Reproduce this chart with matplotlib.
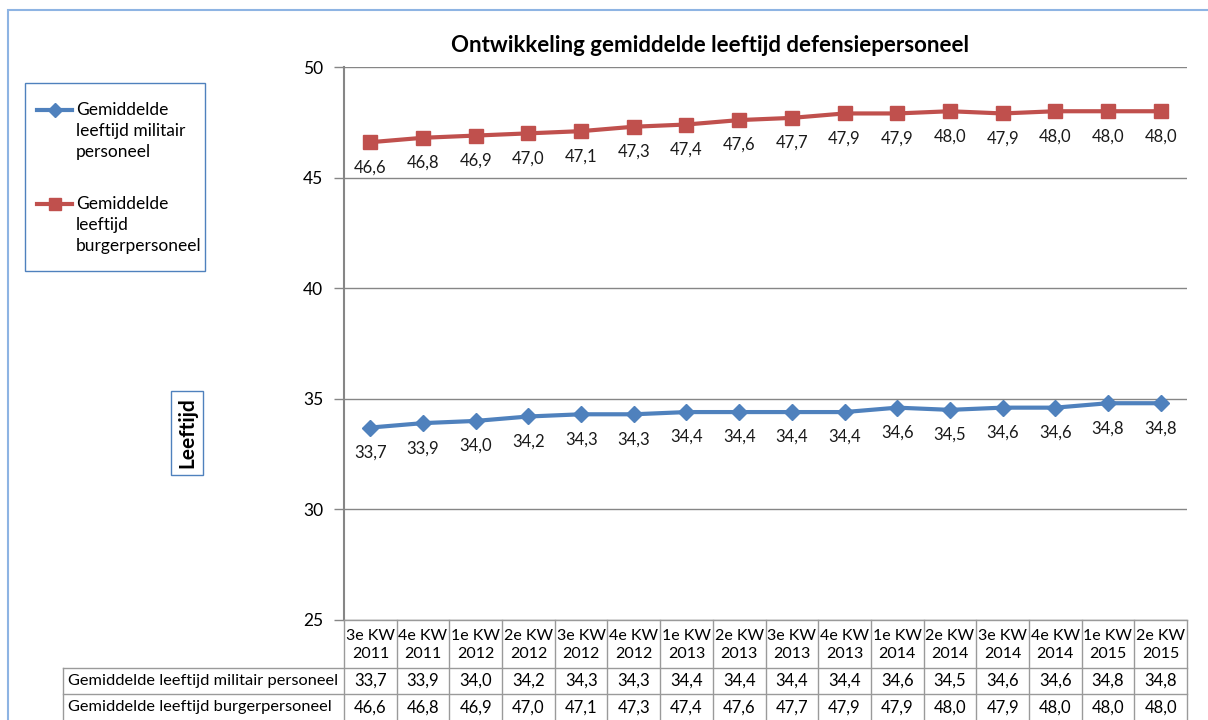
import matplotlib
matplotlib.use('Agg')
import matplotlib.pyplot as plt
from matplotlib.patches import Rectangle
from matplotlib.lines import Line2D

plt.rcParams['font.family'] = ['Lato', 'DejaVu Sans']

# data
periods = ['3e KW\n2011', '4e KW\n2011', '1e KW\n2012', '2e KW\n2012', '3e KW\n2012', '4e KW\n2012',
           '1e KW\n2013', '2e KW\n2013', '3e KW\n2013', '4e KW\n2013', '1e KW\n2014', '2e KW\n2014',
           '3e KW\n2014', '4e KW\n2014', '1e KW\n2015', '2e KW\n2015']
militair = [33.7, 33.9, 34.0, 34.2, 34.3, 34.3, 34.4, 34.4, 34.4, 34.4, 34.6, 34.5, 34.6, 34.6, 34.8, 34.8]
burger = [46.6, 46.8, 46.9, 47.0, 47.1, 47.3, 47.4, 47.6, 47.7, 47.9, 47.9, 48.0, 47.9, 48.0, 48.0, 48.0]
name_mil = 'Gemiddelde leeftijd militair personeel'
name_bur = 'Gemiddelde leeftijd burgerpersoneel'

W, H = 1208, 720
fig = plt.figure(figsize=(W / 100, H / 100), dpi=100)

def fx(px):
    return px / W

def fy(py):
    return 1 - py / H

def fmt(v):
    return ('%.1f' % v).replace('.', ',')

# outer chart border
fig.patches.append(Rectangle((fx(8), fy(730)), fx(1215) - fx(8), fy(10) - fy(730),
                             transform=fig.transFigure, fill=False, edgecolor='#8EB4E3', lw=1.5))

left, right, top, bottom = 344, 1187, 67, 620
ax = fig.add_axes([fx(left), fy(bottom), fx(right) - fx(left), fy(top) - fy(bottom)])

x = list(range(len(periods)))
blue = '#4F81BD'
red = '#C0504D'
grey = '#868686'
ax.plot(x, militair, color=blue, lw=3, marker='D', ms=8, zorder=3)
ax.plot(x, burger, color=red, lw=3, marker='s', ms=10, zorder=3)

for xi, v in zip(x, militair):
    ax.annotate(fmt(v), (xi, v), xytext=(0, -18), textcoords='offset points',
                ha='center', va='center', fontsize=12, color='#1a1a1a')
for xi, v in zip(x, burger):
    ax.annotate(fmt(v), (xi, v), xytext=(0, -18), textcoords='offset points',
                ha='center', va='center', fontsize=12, color='#1a1a1a')

ax.set_xlim(-0.5, len(periods) - 0.5)
ax.set_ylim(25, 50)
ax.set_yticks([25, 30, 35, 40, 45, 50])
ax.set_xticks([])
ax.grid(axis='y', color=grey, lw=1)
ax.set_axisbelow(True)
for s in ['top', 'right', 'bottom']:
    ax.spines[s].set_visible(False)
ax.spines['left'].set_color(grey)
ax.spines['left'].set_linewidth(1.5)
ax.tick_params(axis='y', direction='out', length=7, color=grey, width=1, labelsize=12.5, pad=8)

fig.text(fx(710), fy(46), 'Ontwikkeling gemiddelde leeftijd defensiepersoneel',
         ha='center', va='center', fontsize=16, fontweight='bold')

# y label with box
fig.text(fx(187), fy(433), 'Leeftijd', rotation=90, ha='center', va='center', fontsize=15,
         fontweight='bold', bbox=dict(boxstyle='square,pad=0.3', fc='white', ec=blue, lw=1))

# legend
fig.patches.append(Rectangle((fx(25), fy(271)), fx(205) - fx(25), fy(83) - fy(271),
                             transform=fig.transFigure, fill=False, edgecolor=blue, lw=1))
fig.lines.append(Line2D([fx(37), fx(72)], [fy(110), fy(110)], transform=fig.transFigure, color=blue, lw=3))
fig.lines.append(Line2D([fx(54.5)], [fy(110)], transform=fig.transFigure, color=blue, marker='D', ms=7))
fig.lines.append(Line2D([fx(37), fx(72)], [fy(204), fy(204)], transform=fig.transFigure, color=red, lw=3))
fig.lines.append(Line2D([fx(54.5)], [fy(204)], transform=fig.transFigure, color=red, marker='s', ms=9))
for txt, yy in [('Gemiddelde', 110), ('leeftijd militair', 131), ('personeel', 152),
                ('Gemiddelde', 204), ('leeftijd', 225), ('burgerpersoneel', 246)]:
    fig.text(fx(76), fy(yy), txt, va='center', fontsize=12.5)

# data table
n = len(periods)
colw = (right - left) / n
rows = [bottom, 668, 694, 721]
tbl_left = 63
tc = '#9a9a9a'

def hline(x0, x1, y):
    fig.lines.append(Line2D([fx(x0), fx(x1)], [fy(y), fy(y)], transform=fig.transFigure, color=tc, lw=1))

def vline(xp, y0, y1):
    fig.lines.append(Line2D([fx(xp), fx(xp)], [fy(y0), fy(y1)], transform=fig.transFigure, color=tc, lw=1))

hline(left, right, rows[0])
hline(tbl_left, right, rows[1])
hline(tbl_left, right, rows[2])
vline(tbl_left, rows[1], rows[3])
for i in range(n + 1):
    vline(left + i * colw, rows[0], rows[3])

for i in range(n):
    cx = left + (i + 0.5) * colw
    fig.text(fx(cx), fy((rows[0] + rows[1]) / 2 + 1), periods[i], ha='center', va='center',
             fontsize=11.5, linespacing=1.35)
    fig.text(fx(cx), fy((rows[1] + rows[2]) / 2), fmt(militair[i]),
             ha='center', va='center', fontsize=12)
    fig.text(fx(cx), fy((rows[2] + rows[3]) / 2), fmt(burger[i]),
             ha='center', va='center', fontsize=12)
fig.text(fx(68), fy((rows[1] + rows[2]) / 2), name_mil, va='center', fontsize=11.8)
fig.text(fx(68), fy((rows[2] + rows[3]) / 2), name_bur, va='center', fontsize=11.8)

fig.savefig('out.png', dpi=100)
